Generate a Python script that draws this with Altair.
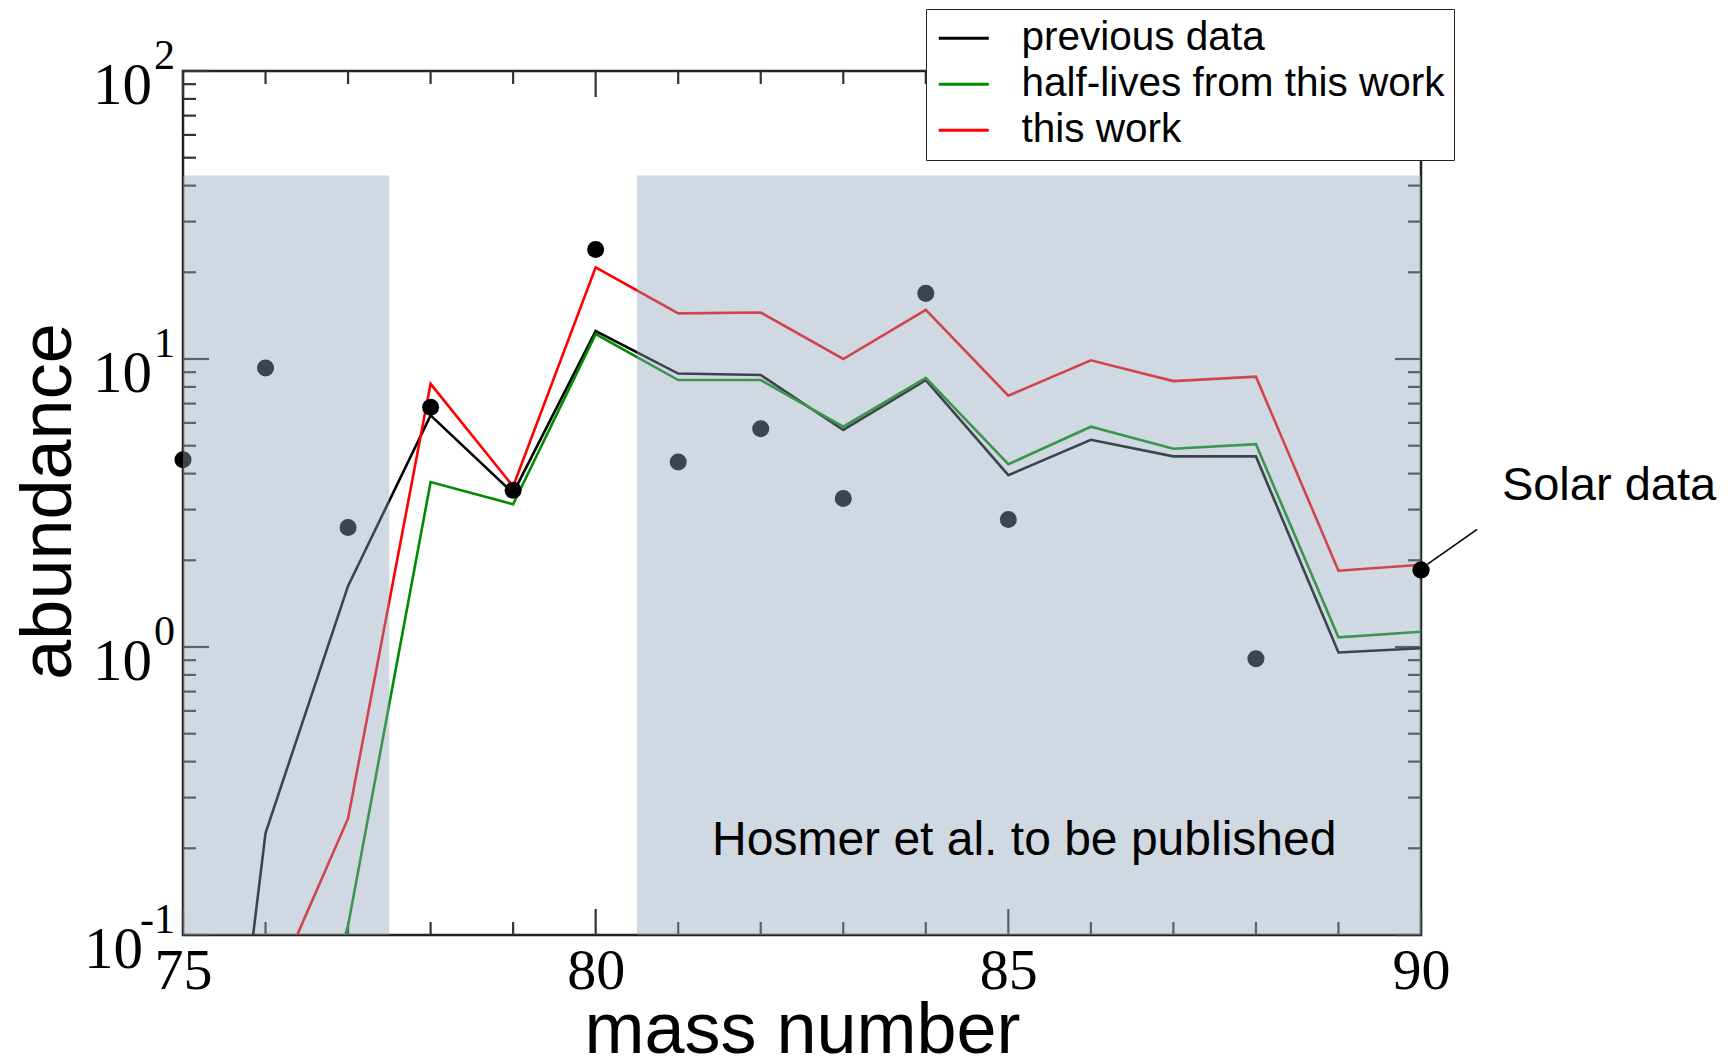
import altair as alt
import pandas as pd

# ---------------- data ----------------
mass = list(range(75, 91))
previous_data = [0.001, 0.226, 1.63, 6.37, 3.42, 12.5, 8.9, 8.8, 5.67, 8.45, 3.95, 5.24, 4.59, 4.59, 0.957, 0.99]
half_lives = [0.0003, 0.01, 0.108, 3.74, 3.13, 12.2, 8.45, 8.45, 5.82, 8.6, 4.31, 5.82, 4.88, 5.06, 1.08, 1.13]
this_work = [0.005, 0.056, 0.254, 8.2, 3.61, 20.8, 14.4, 14.5, 10.0, 14.8, 7.46, 9.9, 8.38, 8.68, 1.84, 1.93]

solar_mass = [75, 76, 77, 78, 79, 80, 81, 82, 83, 84, 85, 88, 90]
solar_abund = [4.47, 9.3, 2.6, 6.8, 3.5, 24.0, 4.39, 5.73, 3.28, 16.9, 2.77, 0.91, 1.85]

series_names = ["previous data", "half-lives from this work", "this work"]
series_colors = ["#000000", "#008c00", "#ff0000"]

shade_from = [75, 80.5]
shade_to = [77.5, 90]
shade_low = [0.1, 0.1]
shade_high = [43.4, 43.4]

x_major = [75, 80, 85, 90]
x_minor = [76, 77, 78, 79, 81, 82, 83, 84, 86, 87, 88, 89]
y_major = [0.1, 1, 10, 100]
y_minor = [0.2, 0.3, 0.4, 0.5, 0.6, 0.7, 0.8, 0.9,
           2, 3, 4, 5, 6, 7, 8, 9,
           20, 30, 40, 50, 60, 70, 80, 90]
y_exponents = ["-1", "0", "1", "2"]

# ---------------- tables ----------------
lines_df = pd.DataFrame({
    "A": mass * 3,
    "value": previous_data + half_lives + this_work,
    "series": [series_names[0]] * len(mass) + [series_names[1]] * len(mass) + [series_names[2]] * len(mass),
})
solar_df = pd.DataFrame({"A": solar_mass, "value": solar_abund})
shade_df = pd.DataFrame({"x0": shade_from, "x1": shade_to, "y0": shade_low, "y1": shade_high})
xmaj_df = pd.DataFrame({"A": x_major})
xmin_df = pd.DataFrame({"A": x_minor})
ymaj_df = pd.DataFrame({"value": y_major})
ymin_df = pd.DataFrame({"value": y_minor})
ylab_df = pd.DataFrame({"value": y_major, "exp": y_exponents})

W, H = 1238, 864

xs = alt.Scale(domain=[75, 90], nice=False, zero=False)
ys = alt.Scale(type="log", domain=[0.1, 100], nice=False)

x_axis = alt.Axis(values=x_major, ticks=False, tickSize=0, domain=False, grid=False,
                  labelFont="Liberation Serif", labelFontSize=58, labelColor="black",
                  labelBaseline="alphabetic", labelPadding=53, labelFlush=False,
                  labelOverlap=False, format="d",
                  title="mass number", titleFont="Liberation Sans", titleFontSize=72,
                  titleFontWeight="normal", titleColor="black", titleX=619, titleY=117,
                  titleBaseline="alphabetic", titleAlign="center")
y_axis = alt.Axis(labels=False, ticks=False, tickSize=0, domain=False, grid=False,
                  title="abundance", titleFont="Liberation Sans", titleFontSize=72,
                  titleFontWeight="normal", titleColor="black", titleAngle=270,
                  titleX=-113, titleY=430, titleAlign="center", titleBaseline="alphabetic")


def X(field):
    return alt.X(field, type="quantitative", scale=xs, axis=x_axis)


def Y(field):
    return alt.Y(field, type="quantitative", scale=ys, axis=y_axis)


tick_style = dict(color="#333333", strokeWidth=2.2)
layers = []
# x ticks (bottom / top, inward)
layers.append(alt.Chart(xmaj_df).mark_rule(**tick_style).encode(x=X("A"), y=alt.value(H), y2=alt.value(H - 26)))
layers.append(alt.Chart(xmin_df).mark_rule(**tick_style).encode(x=X("A"), y=alt.value(H), y2=alt.value(H - 13)))
layers.append(alt.Chart(xmaj_df).mark_rule(**tick_style).encode(x=X("A"), y=alt.value(0), y2=alt.value(26)))
layers.append(alt.Chart(xmin_df).mark_rule(**tick_style).encode(x=X("A"), y=alt.value(0), y2=alt.value(13)))
# y ticks (left / right, inward)
layers.append(alt.Chart(ymaj_df).mark_rule(**tick_style).encode(y=Y("value"), x=alt.value(0), x2=alt.value(26)))
layers.append(alt.Chart(ymin_df).mark_rule(**tick_style).encode(y=Y("value"), x=alt.value(0), x2=alt.value(13)))
layers.append(alt.Chart(ymaj_df).mark_rule(**tick_style).encode(y=Y("value"), x=alt.value(W - 26), x2=alt.value(W)))
layers.append(alt.Chart(ymin_df).mark_rule(**tick_style).encode(y=Y("value"), x=alt.value(W - 13), x2=alt.value(W)))

# model lines
layers.append(
    alt.Chart(lines_df).mark_line(strokeWidth=2.6, clip=True).encode(
        x=X("A"), y=Y("value"),
        color=alt.Color("series:N", scale=alt.Scale(domain=series_names, range=series_colors),
                        legend=alt.Legend(title=None, orient="none", legendX=743, legendY=-62,
                                          symbolType="M-1.32,0H2.68", symbolSize=625, symbolStrokeWidth=3,
                                          labelFont="Liberation Sans", labelFontSize=40.5,
                                          labelColor="black", labelOffset=46, labelLimit=1000,
                                          rowPadding=5, padding=9, strokeColor="#222222",
                                          fillColor="white")),
        order=alt.Order("A:Q"),
    )
)

# solar points
layers.append(alt.Chart(solar_df).mark_circle(size=290, color="black", opacity=1).encode(x=X("A"), y=Y("value")))

# translucent shading
layers.append(
    alt.Chart(shade_df).mark_rect(color="#8fa2bb", opacity=0.42).encode(
        x=X("x0"), x2="x1", y=Y("y0"), y2="y1")
)

# highlighted solar point at the edge (drawn on top)
layers.append(
    alt.Chart(solar_df).transform_filter("datum.A == 90").mark_circle(size=290, color="black", opacity=1)
    .encode(x=X("A"), y=Y("value"))
)

# annotations
ann = pd.DataFrame({"k": [0]})
layers.append(alt.Chart(ann).mark_rule(color="black", strokeWidth=1.6).encode(
    x=alt.datum(90.08), x2=alt.datum(90.68), y=alt.datum(1.94), y2=alt.datum(2.56)))
layers.append(alt.Chart(ann).mark_text(text="Solar data", align="left", baseline="alphabetic",
                                       font="Liberation Sans", fontSize=47, color="black").encode(
    x=alt.datum(90.98), y=alt.datum(3.23)))
layers.append(alt.Chart(ann).mark_text(text="Hosmer et al. to be published", align="left",
                                       baseline="alphabetic", font="Liberation Sans", fontSize=48,
                                       color="black").encode(
    x=alt.datum(81.41), y=alt.datum(0.189)))

# y tick labels 10^n
layers.append(alt.Chart(ylab_df).transform_filter("length(datum.exp) == 1").mark_text(
    text="10", align="right", baseline="alphabetic", font="Liberation Serif", fontSize=59,
    dy=33, color="black").encode(y=Y("value"), x=alt.value(-31)))
layers.append(alt.Chart(ylab_df).transform_filter("length(datum.exp) == 2").mark_text(
    text="10", align="right", baseline="alphabetic", font="Liberation Serif", fontSize=59,
    dy=33, color="black").encode(y=Y("value"), x=alt.value(-40)))
layers.append(alt.Chart(ylab_df).mark_text(
    align="right", baseline="alphabetic", font="Liberation Serif", fontSize=42,
    dy=-2, color="black").encode(y=Y("value"), x=alt.value(-8), text="exp:N"))

chart = alt.layer(*layers).properties(
    width=W, height=H,
    padding={"left": 183, "top": 71, "right": 314, "bottom": 125},
    autosize=alt.AutoSizeParams(type="none"),
    background="white",
).configure_view(stroke="#222222", strokeWidth=2.5).configure_axis(grid=False)

chart.save("out.html", embed_options={"renderer": "svg", "actions": False})
